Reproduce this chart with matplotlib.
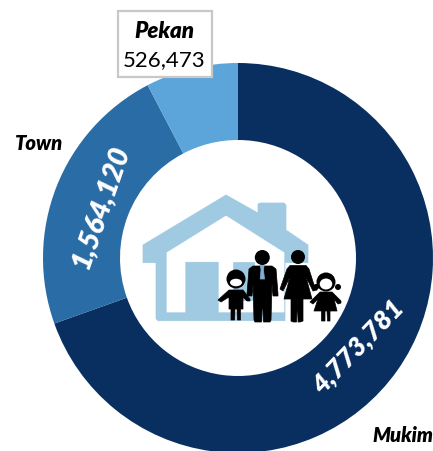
import matplotlib
matplotlib.use("Agg")
import matplotlib.pyplot as plt
from matplotlib.patches import Polygon, Circle, Ellipse, Rectangle

plt.rcParams['font.family'] = ['Lato', 'DejaVu Sans']

categories = ["Mukim", "Town", "Pekan"]
values = [4773781, 1564120, 526473]
value_labels = ["4,773,781", "1,564,120", "526,473"]
colors = ["#082F60", "#2A6CA5", "#5BA5DB"]

fig = plt.figure(figsize=(4.33, 4.51), dpi=100)
ax = fig.add_axes([0, 0, 1, 1])
CX, CY, R = 238, 258, 195

ax.pie(values, colors=colors, startangle=90, counterclock=False,
       center=(CX, -CY), radius=R,
       wedgeprops=dict(width=R - 118, linewidth=0))
ax.set_xlim(0, 433)
ax.set_ylim(-451, 0)
ax.set_aspect('equal')
ax.axis('off')

def P(x, y):
    return (x, -y)

def poly(pts, color, z=5):
    ax.add_patch(Polygon([P(*p) for p in pts], closed=True, fc=color, ec=color, lw=0.5, zorder=z, joinstyle='round'))

def rect(x0, y0, x1, y1, color, z=4):
    poly([(x0, y0), (x1, y0), (x1, y1), (x0, y1)], color, z)

def circ(x, y, r, color='black', z=5):
    ax.add_patch(Circle(P(x, y), r, fc=color, ec='none', zorder=z))

HOUSE = "#A0CAE2"
poly([(226, 195), (258, 213), (258, 204), (260, 203), (284, 203), (286, 205), (286, 230),
      (308, 245), (308, 262.7), (285, 262.7), (285, 320.7), (158, 320.7), (156, 318.7),
      (156, 262.7), (143, 262.7), (143, 245)], HOUSE, 3)
poly([(226, 216), (284, 252.7), (284, 312), (219, 312), (219, 261.7), (185, 261.7),
      (185, 312), (167, 312), (167, 252.7)], "white", 3.5)
rect(233, 261.7, 254, 300, HOUSE)

K = 'black'
# man
circ(262.3, 257.5, 7.5)
poly([(249, 269), (253, 266), (272, 266), (276, 269), (278, 294), (278, 296), (273, 296), (272, 284),
      (271, 320), (270, 322), (263.5, 322), (262.5, 300), (261.5, 322), (255, 322), (254, 320),
      (253, 284), (252, 296), (247, 296), (247, 294)], K)
poly([(260.5, 266), (264, 266), (263.5, 270), (264.5, 279), (262.3, 279), (260.2, 279), (261, 270)], "#7FAFCF", 6)
# woman
circ(298, 257, 7)
poly([(287, 269), (290, 265.5), (306, 265.5), (309, 269), (315, 288), (317, 290), (313, 291), (306, 277),
      (312, 299), (303, 299), (303, 321), (300, 322), (298, 322), (297.5, 300), (296.5, 322), (293, 322), (291, 321),
      (291, 299), (284, 299), (290, 277), (283, 291), (280, 289)], K)
# boy
circ(236, 279, 9.5)
ax.add_patch(Ellipse(P(236, 282.5), 12, 7.5, fc="white", ec='none', zorder=6))
poly([(229, 290), (243, 290), (250, 299), (250, 301), (247, 301), (243, 297), (243, 309), (240.5, 309),
      (240.5, 320), (237.5, 320), (237, 309), (235, 309), (234.5, 320), (231, 320), (231, 309), (229, 309), (229, 297),
      (221, 302), (218, 300)], K)
# girl
circ(326, 282, 9.5)
ax.add_patch(Ellipse(P(326, 284), 12.5, 11, fc="white", ec='none', zorder=6))
circ(316, 287, 3)
circ(338, 287, 3)
poly([(320, 292), (332, 292), (341, 301), (341, 303), (338, 304), (334, 299), (337, 311), (330, 311),
      (330, 321), (327.5, 321), (327, 311), (325, 311), (325, 321), (321.5, 321), (321.5, 311), (314, 311), (318, 299), (313, 304), (310, 302)], K)

# data labels
ax.text(358.5, -346.5, value_labels[0], color="white", fontsize=19, fontweight='heavy', fontstyle='italic',
        rotation=46, ha='center', va='center', rotation_mode='anchor', zorder=7)
ax.text(100.5, -206, value_labels[1], color="white", fontsize=20.5, fontweight='heavy', fontstyle='italic',
        rotation=71, ha='center', va='center', rotation_mode='anchor', zorder=7)

ax.text(403, -435, categories[0], color="black", fontsize=14.5, fontweight='heavy', fontstyle='italic',
        ha='center', va='center', zorder=7)
ax.text(39, -144, categories[1], color="black", fontsize=14.5, fontweight='heavy', fontstyle='italic',
        ha='center', va='center', zorder=7)

ax.add_patch(Rectangle(P(117.5, 77), 94.5, 66, fc="white", ec="#C8C8C8", lw=1.6, zorder=8))
ax.text(164.5, -31, categories[2], color="black", fontsize=16, fontweight='heavy', fontstyle='italic',
        ha='center', va='center', zorder=9)
ax.text(164.5, -60, value_labels[2], color="black", fontsize=16, ha='center', va='center', zorder=9)

fig.savefig("out.png", dpi=100)
